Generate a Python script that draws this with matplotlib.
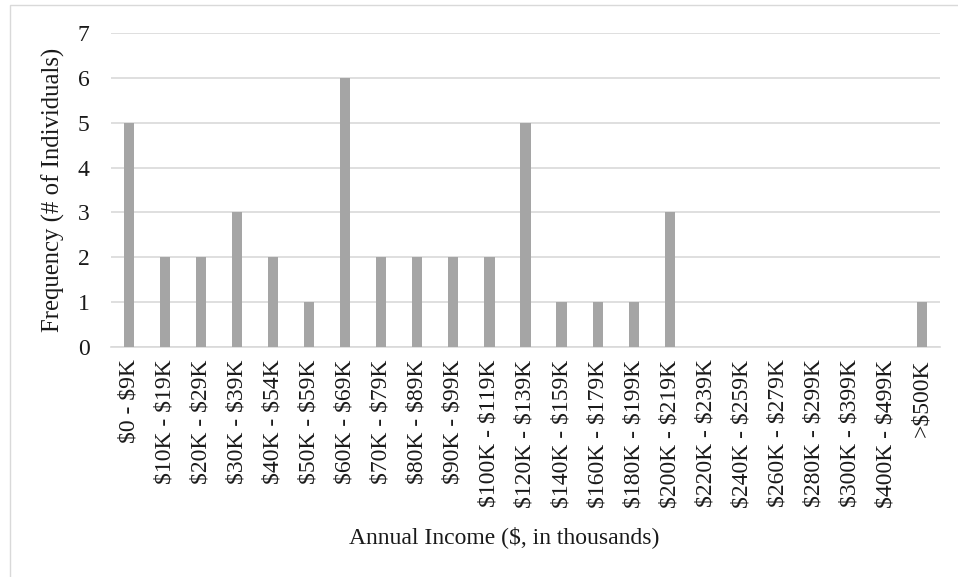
import matplotlib.pyplot as plt
from matplotlib.patches import Rectangle

categories = [
    "$0 - $9K", "$10K - $19K", "$20K - $29K", "$30K - $39K", "$40K - $54K",
    "$50K - $59K", "$60K - $69K", "$70K - $79K", "$80K - $89K", "$90K - $99K",
    "$100K - $119K", "$120K - $139K", "$140K - $159K", "$160K - $179K",
    "$180K - $199K", "$200K - $219K", "$220K - $239K", "$240K - $259K",
    "$260K - $279K", "$280K - $299K", "$300K - $399K", "$400K - $499K", ">$500K",
]
frequency = [5, 2, 2, 3, 2, 1, 6, 2, 2, 2, 2, 5, 1, 1, 1, 3, 0, 0, 0, 0, 0, 0, 1]
yticks = [0, 1, 2, 3, 4, 5, 6, 7]

plt.rcParams["font.family"] = ["Liberation Serif", "DejaVu Serif"]
plt.rcParams["text.parse_math"] = False

fig = plt.figure(figsize=(9.58, 5.77), dpi=100)
ax = fig.add_axes([111 / 958, 1 - 347 / 577, (940 - 111) / 958, (347 - 33) / 577])

positions = list(range(len(categories)))
ax.bar(positions, frequency, width=0.28, color="#a5a5a5", zorder=3)

ax.set_xlim(-0.5, len(categories) - 0.5)
ax.set_ylim(0, 7)
ax.set_yticks(yticks)
ax.set_xticks(positions)
ax.set_xticklabels(categories, rotation=90, fontsize=17, color="#1a1a1a")
ax.tick_params(axis="y", labelsize=17, length=0, pad=15.5, labelcolor="#1a1a1a")
ax.tick_params(axis="x", length=0, pad=9)
ax.grid(axis="y", color="#d9d9d9", linewidth=1.2, zorder=0)
for side in ("top", "right", "left"):
    ax.spines[side].set_visible(False)
ax.spines["bottom"].set_color("#d9d9d9")
ax.spines["bottom"].set_linewidth(1.2)

ax.set_ylabel("Frequency (# of Individuals)", fontsize=17.8, labelpad=9, color="#1a1a1a")
ax.set_xlabel("Annual Income ($, in thousands)", fontsize=17, labelpad=13, color="#1a1a1a")
# the x title sits a little left of the plot-area centre in the original
ax.xaxis.label.set_x(0.474)

# chart frame: only its left and top edges fall inside the crop
fig.patches.append(Rectangle((10 / 958, -0.1), 1.1, 1 - 5 / 577 + 0.1,
                             transform=fig.transFigure, fill=False,
                             edgecolor="#d9d9d9", linewidth=1))

fig.savefig("out.png", dpi=100)
